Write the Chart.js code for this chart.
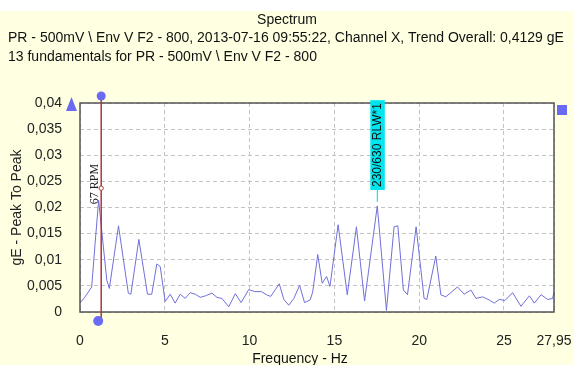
<!DOCTYPE html>
<html><head><meta charset="utf-8">
<script src="https://cdn.jsdelivr.net/npm/chart.js@4/dist/chart.umd.min.js"></script>
<style>html,body{margin:0;padding:0;background:#fff;overflow:hidden}#wrap{width:574px;height:365px}</style>
</head><body><div id="wrap"><canvas id="c" width="574" height="365"></canvas></div>
<script>
const titleMain = 'Spectrum';
const titleSub1 = 'PR - 500mV \\ Env V F2 - 800, 2013-07-16 09:55:22, Channel X, Trend Overall: 0,4129 gE';
const titleSub2 = '13 fundamentals for PR - 500mV \\ Env V F2 - 800';
const xAxisTitle = 'Frequency - Hz';
const yAxisTitle = 'gE - Peak To Peak';
const xTickValues = [0, 5, 10, 15, 20, 25, 27.95];
const yTickValues = [0, 0.005, 0.01, 0.015, 0.02, 0.025, 0.03, 0.035, 0.04];

const freqHz = [0.00,0.30,0.69,0.89,1.10,1.30,1.58,1.73,2.27,2.85,3.00,3.47,3.98,4.23,4.53,4.73,5.02,5.32,5.61,5.91,6.20,6.50,6.80,7.09,7.40,7.78,8.08,8.37,8.77,9.16,9.50,9.95,10.30,10.70,11.05,11.25,11.75,12.02,12.31,12.61,12.95,13.24,13.57,13.72,14.02,14.28,14.54,14.74,15.22,15.76,16.30,16.78,17.53,18.07,18.52,18.74,19.07,19.31,19.82,20.29,20.45,20.98,21.28,21.57,22.26,22.65,23.05,23.35,23.74,24.13,24.43,24.72,25.06,25.51,26.00,26.50,26.79,27.19,27.58,27.87,27.95];
const amplitude = [0.0017,0.0029,0.0048,0.0131,0.0214,0.0150,0.0061,0.0045,0.0165,0.0036,0.0034,0.0139,0.0034,0.0034,0.0092,0.0087,0.0020,0.0034,0.0017,0.0034,0.0026,0.0037,0.0034,0.0028,0.0031,0.0036,0.0028,0.0026,0.0010,0.0035,0.0018,0.0043,0.0039,0.0039,0.0032,0.0030,0.0054,0.0024,0.0013,0.0026,0.0051,0.0018,0.0023,0.0038,0.0110,0.0055,0.0068,0.0049,0.0167,0.0033,0.0163,0.0021,0.0203,0.0003,0.0163,0.0165,0.0042,0.0033,0.0163,0.0026,0.0024,0.0107,0.0033,0.0029,0.0048,0.0034,0.0042,0.0026,0.0029,0.0023,0.0017,0.0024,0.0022,0.0037,0.0011,0.0031,0.0017,0.0033,0.0024,0.0026,0.0039];

const cursorFreq = [1.25];
const cursorMarkAmp = [0.0237];
const cursorLabel = ['67 RPM'];
const peakFreq = [17.53];
const peakAmp = [0.0203];
const peakLabel = ['230/630 RLW*1'];

const fmt = v => String(Number(v.toFixed(4))).replace('.', ',');
const FONT = "'Liberation Sans', Arial, sans-serif";
const BLUE = '#6a6af2';

const bgPlugin = {
  id: 'bg',
  beforeDraw(chart) {
    const c = chart.ctx, a = chart.chartArea;
    c.save();
    c.fillStyle = '#ffffff';
    c.fillRect(0, 0, chart.width, chart.height);
    c.fillStyle = '#ffffe1';
    c.fillRect(0, 11, chart.width, chart.height - 11);
    c.fillStyle = '#ffffff';
    c.fillRect(a.left, a.top, a.right - a.left, a.bottom - a.top);
    c.restore();
  }
};

const overlayPlugin = {
  id: 'overlay',
  afterDraw(chart) {
    const c = chart.ctx, a = chart.chartArea;
    const xs = chart.scales.x, ys = chart.scales.y;
    c.save();
    // border
    c.strokeStyle = '#555555';
    c.lineWidth = 1.5;
    c.strokeRect(a.left, a.top, a.right - a.left, a.bottom - a.top);

    // titles
    c.fillStyle = '#111';
    c.font = '14px ' + FONT;
    c.textBaseline = 'alphabetic';
    c.textAlign = 'center';
    c.fillText(titleMain, chart.width / 2, 24);
    c.textAlign = 'left';
    c.fillText(titleSub1, 8, 42);
    c.fillText(titleSub2, 8, 61);

    // x axis title
    c.textAlign = 'center';
    c.fillText(xAxisTitle, 300, 363);

    // left triangle & right square markers
    c.fillStyle = BLUE;
    c.beginPath();
    c.moveTo(66, 111); c.lineTo(77, 111); c.lineTo(71.5, 97); c.closePath(); c.fill();
    c.fillRect(557, 105, 10, 10);

    // cursor
    cursorFreq.forEach((f, i) => {
      const x = xs.getPixelForValue(f);
      c.strokeStyle = '#a83838';
      c.lineWidth = 1.5;
      c.beginPath(); c.moveTo(x, 96); c.lineTo(x, 321); c.stroke();
      c.fillStyle = BLUE;
      c.beginPath(); c.arc(x, 96, 4.5, 0, Math.PI * 2); c.fill();
      c.beginPath(); c.arc(x - 3, 321, 5, 0, Math.PI * 2); c.fill();
      const my = ys.getPixelForValue(cursorMarkAmp[i]);
      c.fillStyle = '#fff';
      c.strokeStyle = '#b04040';
      c.lineWidth = 1;
      c.beginPath(); c.arc(x, my, 2.2, 0, Math.PI * 2); c.fill(); c.stroke();
      c.save();
      c.translate(x - 0.5, my + 16);
      c.rotate(-Math.PI / 2);
      c.font = "12px 'Liberation Serif', 'Times New Roman', serif";
      c.fillStyle = '#222';
      c.textAlign = 'left';
      c.textBaseline = 'bottom';
      c.fillText(cursorLabel[i], 0, 0);
      c.restore();
    });

    // peak label
    peakFreq.forEach((f, i) => {
      const x = xs.getPixelForValue(f);
      const py = ys.getPixelForValue(peakAmp[i]);
      c.font = '12px ' + FONT;
      const w = c.measureText(peakLabel[i]).width;
      const bottom = 190;
      const top = bottom - w - 6;
      c.fillStyle = '#00e6ee';
      c.fillRect(x - 7, top, 14.5, bottom - top);
      c.strokeStyle = '#00d8e0';
      c.lineWidth = 1;
      c.beginPath(); c.moveTo(x, bottom); c.lineTo(x, py - 4); c.stroke();
      c.save();
      c.translate(x + 0.5, bottom - 3);
      c.rotate(-Math.PI / 2);
      c.fillStyle = '#111';
      c.textAlign = 'left';
      c.textBaseline = 'middle';
      c.fillText(peakLabel[i], 0, 0);
      c.restore();
    });
    c.restore();
  }
};

Chart.defaults.font.family = FONT;
new Chart(document.getElementById('c'), {
  type: 'line',
  data: {
    datasets: [{
      label: 'Spectrum',
      data: freqHz.map((f, i) => ({ x: f, y: amplitude[i] })),
      borderColor: 'rgb(112,112,218)',
      borderWidth: 1,
      pointRadius: 0,
      tension: 0,
      fill: false
    }]
  },
  options: {
    responsive: false,
    animation: false,
    devicePixelRatio: 1,
    layout: { padding: { left: 0, right: 20, top: 103, bottom: 0 } },
    plugins: { legend: { display: false }, tooltip: { enabled: false }, title: { display: false } },
    scales: {
      x: {
        type: 'linear', min: 0, max: 27.95,
        afterBuildTicks: s => { s.ticks = xTickValues.map(v => ({ value: v })); },
        afterFit: s => { s.height = 53; s.paddingLeft = 0; s.paddingRight = 0; },
        ticks: { callback: v => fmt(v), padding: 21, font: { size: 14 }, color: '#222', maxRotation: 0, autoSkip: false },
        grid: { color: '#c4c4c4', lineWidth: 1, drawTicks: false },
        border: { display: false, dash: [4, 3] }
      },
      y: {
        min: 0, max: 0.04,
        afterBuildTicks: s => { s.ticks = yTickValues.map(v => ({ value: v })); },
        afterFit: s => { s.width = 80; s.paddingTop = 0; s.paddingBottom = 0; },
        ticks: { callback: v => fmt(v), padding: 18, font: { size: 14 }, color: '#222' },
        grid: { color: '#c4c4c4', lineWidth: 1, drawTicks: false },
        border: { display: false, dash: [4, 3] },
        title: { display: true, text: yAxisTitle, font: { size: 14 }, color: '#222', padding: { top: 9, bottom: 0 } }
      }
    }
  },
  plugins: [bgPlugin, overlayPlugin]
});
</script>
</body></html>
